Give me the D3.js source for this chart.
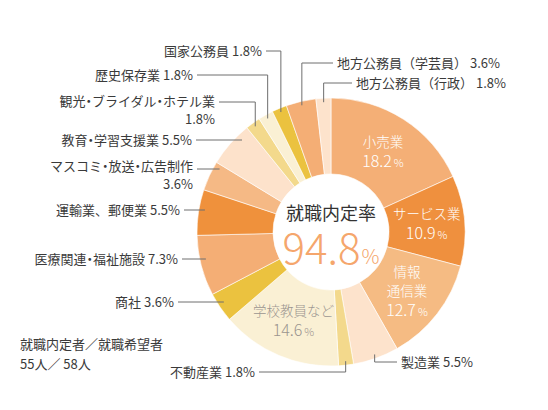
<!DOCTYPE html>
<html>
<head>
<meta charset="utf-8">
<script src="https://cdn.jsdelivr.net/npm/d3@7"></script>
<style>
  body { margin: 0; background: #fff; }
  svg text { font-family: "Noto Sans CJK JP", "Noto Sans", sans-serif; font-weight: 400; }
  svg text.thin { font-weight: 300; }
  svg tspan.dot { font-feature-settings: "palt"; }
</style>
</head>
<body>
<svg id="chart" width="548" height="410"></svg>
<script>
// data, clockwise from 12 o'clock
var categories = ["小売業", "サービス業", "情報通信業", "製造業", "不動産業", "学校教員など", "商社",
    "医療関連・福祉施設", "運輸業、郵便業", "マスコミ・放送・広告制作", "教育・学習支援業",
    "観光・ブライダル・ホテル業", "歴史保存業", "国家公務員", "地方公務員（学芸員）", "地方公務員（行政）"];
var values = [18.2, 10.9, 12.7, 5.5, 1.8, 14.6, 3.6, 7.3, 5.5, 3.6, 5.5, 1.8, 1.8, 1.8, 3.6, 1.8];
var rateTitle = "就職内定率";
var rateValue = 94.8;
var countLines = ["就職内定者／就職希望者", "55人／ 58人"];

var palette = ["#f4af76", "#ef903e", "#f5bb83", "#fde3cc", "#f3d98c", "#faf0d4", "#ebc23f",
    "#f4ae75", "#ef913c", "#f5b985", "#fde2cb", "#f3d98c", "#faf0d4", "#ebc23f", "#f4ae75", "#fde3cc"];

var cx = 331, cy = 232, rOuter = 134, rInner = 58;
var svg = d3.select("#chart");
var g = svg.append("g").attr("transform", "translate(" + cx + "," + cy + ")");

var color = d3.scaleOrdinal(categories, palette);
var pie = d3.pie().sort(null).value(function (d) { return d.v; });
var arc = d3.arc().innerRadius(rInner).outerRadius(rOuter);

var rows = categories.map(function (c, i) { return {name: c, v: values[i], i: i}; });
var arcs = pie(rows);

g.selectAll("path.slice")
    .data(arcs)
    .enter().append("path")
    .attr("class", "slice")
    .attr("d", arc)
    .attr("fill", function (d) { return color(d.data.name); })
    .attr("stroke", "#fff")
    .attr("stroke-width", 0.6);

// labels inside the ring
var inner = [
    {i: 0, lines: ["小売業"], fill: "#fff"},
    {i: 1, lines: ["サービス業"], fill: "#fff"},
    {i: 2, lines: ["情報", "通信業"], fill: "#fff"},
    {i: 5, lines: ["学校教員など"], fill: "#9a9590"}
];
var midArc = d3.arc().innerRadius((rInner + rOuter) / 2).outerRadius((rInner + rOuter) / 2);
inner.forEach(function (o) {
    var c = midArc.centroid(arcs[o.i]);
    var n = o.lines.length + 1;
    var top = c[1] - (n - 1) * 19 / 2;
    var t = g.append("text").attr("class", "thin").attr("text-anchor", "middle").attr("fill", o.fill);
    o.lines.forEach(function (l, k) {
        t.append("tspan").attr("x", c[0]).attr("y", top + k * 19 + 5)
            .attr("font-size", 13.5).text(l);
    });
    var vt = t.append("tspan").attr("x", c[0]).attr("y", top + o.lines.length * 19 + 6);
    vt.append("tspan").attr("font-size", 16).text(values[o.i]);
    vt.append("tspan").attr("font-size", 11).attr("dx", 2).text("%");
});

// middle dots set proportional, like the original type
function addRun(sel, str) {
    str.split("・").forEach(function (p, k) {
        if (k > 0) sel.append("tspan").attr("class", "dot").text("・");
        sel.append("tspan").text(p);
    });
}

// outside labels with leader lines
var outer = [
    {i: 13, x: 262, y: 51, anchor: "end", elbow: true},
    {i: 12, x: 193, y: 75, anchor: "end", elbow: true},
    {i: 11, x: 215, y: 101, anchor: "end", elbow: true, split: true, ly: 102},
    {i: 10, x: 192, y: 140, anchor: "end"},
    {i: 9, x: 193, y: 166, anchor: "end", split: true, ly: 169},
    {i: 8, x: 180, y: 210, anchor: "end"},
    {i: 7, x: 178, y: 259, anchor: "end"},
    {i: 6, x: 174, y: 302, anchor: "end"},
    {i: 4, x: 255, y: 372, anchor: "end", elbow: true},
    {i: 3, x: 401, y: 362, anchor: "start", elbow: true},
    {i: 14, x: 337, y: 63, anchor: "start", elbow: true},
    {i: 15, x: 356, y: 83, anchor: "start", elbow: true}
];
var lineR = 130;
outer.forEach(function (o) {
    var a = arcs[o.i];
    var t = svg.append("text").attr("text-anchor", o.anchor).attr("fill", "#3a3a3a").attr("font-size", 13);
    var valTxt = values[o.i] + "%";
    if (o.split) {
        var l1 = t.append("tspan").attr("x", o.x).attr("y", o.y + 4.5);
        addRun(l1, categories[o.i]);
        t.append("tspan").attr("x", o.x).attr("y", o.y + 4.5 + 18).text(valTxt);
    } else {
        var l0 = t.append("tspan").attr("x", o.x).attr("y", o.y + 4.5);
        addRun(l0, categories[o.i] + " " + valTxt);
    }
    var ly = o.ly || o.y;
    var x0 = o.anchor === "end" ? o.x + 4 : o.x - 4;
    var pts;
    if (o.elbow) {
        var ang = (a.startAngle + a.endAngle) / 2;
        var ax = cx + lineR * Math.sin(ang), ay = cy - lineR * Math.cos(ang);
        pts = [[x0, ly], [ax, ly], [ax, ay]];
    } else {
        var dy = ly - cy;
        var ex = cx - Math.sqrt(128 * 128 - dy * dy);
        pts = [[x0, ly], [ex, ly]];
    }
    svg.append("path")
        .attr("d", d3.line()(pts))
        .attr("fill", "none")
        .attr("stroke", "#6e6e6e")
        .attr("stroke-width", 1);
});

// center
svg.append("text").attr("text-anchor", "middle").attr("fill", "#333")
    .attr("x", cx).attr("y", 220).attr("font-size", 18).text(rateTitle);
var big = svg.append("text").attr("class", "thin").attr("text-anchor", "middle").attr("fill", "#f5a66c")
    .attr("x", cx).attr("y", 264);
big.append("tspan").attr("font-size", 42).text(rateValue);
big.append("tspan").attr("font-size", 20).attr("dx", 1).text("%");

// counts
svg.append("g").selectAll("text")
    .data(countLines)
    .enter().append("text")
    .attr("x", 20)
    .attr("y", function (d, i) { return 349 + i * 20; })
    .attr("font-size", 13)
    .attr("fill", "#3a3a3a")
    .text(function (d) { return d; });
</script>
</body>
</html>
